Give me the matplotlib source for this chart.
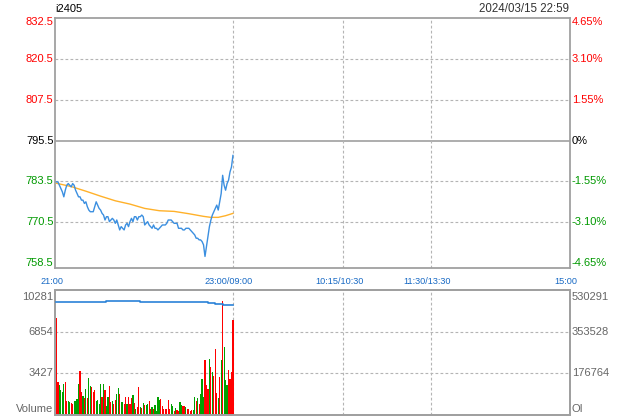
import matplotlib
matplotlib.use("Agg")
import matplotlib.pyplot as plt
import matplotlib.transforms as mtransforms
import numpy as np

plt.rcParams['font.family'] = ['Liberation Sans', 'DejaVu Sans']

# ---------------- data ----------------
symbol = "i2405"
timestamp = "2024/03/15 22:59"
pre_close = 795.5
pct_step = 1.55

price = [783.0, 783.0, 782.0, 781.0, 780.0, 778.5, 780.5, 782.0, 782.5, 782.0,
         781.5, 782.5, 782.0, 780.5, 779.5, 778.5, 778.5, 777.5, 777.5, 776.5,
         777.0, 775.5, 774.5, 774.0, 774.0, 774.0, 775.5, 777.0, 776.0, 775.0,
         774.5, 773.5, 773.0, 771.5, 772.5, 772.5, 771.0, 771.5, 772.0, 771.5,
         770.5, 771.5, 770.0, 768.5, 769.5, 769.0, 768.5, 770.0, 770.5, 769.5,
         771.0, 772.0, 771.0, 772.5, 772.5, 771.5, 772.5, 772.5, 773.0, 772.5,
         770.0, 770.5, 771.0, 770.0, 769.5, 769.0, 770.0, 769.0, 769.0, 768.5,
         769.0, 769.5, 770.0, 770.0, 770.0, 770.5, 771.5, 771.5, 771.5, 771.0,
         770.5, 770.5, 770.5, 769.0, 769.0, 769.0, 768.5, 768.5, 769.0, 769.0,
         769.0, 768.5, 768.0, 767.5, 767.0, 766.0, 766.0, 765.5, 765.5, 765.0,
         764.0, 760.5, 763.5, 766.5, 769.5, 771.5, 773.0, 774.0, 775.0, 776.0,
         774.5, 777.0, 779.5, 785.0, 782.0, 780.5, 782.5, 783.5, 786.0, 787.5, 791.0]

avg_minutes = [0, 10, 20, 30, 40, 50, 60, 70, 80, 90, 100, 105, 110, 115, 120]
avg_price = [782.6, 781.6, 780.2, 778.7, 777.3, 776.3, 775.0, 774.3, 774.1, 773.4,
             772.6, 772.3, 772.3, 772.8, 773.5]

volume = [7973, 2713, 2466, 2055, 1918, 2548, 2713, 1151, 1151, 1041,
          1014, 904, 1151, 1151, 1315, 2548, 3617, 1891, 1562, 1397,
          2137, 1397, 3041, 2384, 2302, 1891, 2055, 1151, 1233, 904,
          2548, 1480, 2548, 2055, 740, 1480, 2384, 1069, 1151, 904,
          1233, 1726, 2219, 1726, 1069, 1069, 904, 1480, 904, 1480,
          904, 1397, 1644, 986, 493, 658, 2302, 658, 575, 986,
          822,
          822, 904, 1151, 493, 658, 493, 822, 329, 1480, 1233,
          1315, 740, 493, 493, 493, 1233, 493, 904, 740, 329,
          575, 411, 329, 1069, 822, 740, 740, 658, 493, 493,
          329, 411, 411, 1480, 1151, 1397, 904, 1726, 2959, 1480,
          4521, 2466, 2137, 4603, 3946, 3535, 3206, 5425, 1808, 1397,
          3124, 4521, 9371, 5590, 2877, 2466, 3699, 2959, 3535, 7809]
vol_up = "rrggggrrggrrggggrrgrgrggrrrggggrgrggrrgrrggrggrrgrrrgrgrrgrgr" \
         "ggrrgrgggg" "rrrrrrrggr" "grrggrrgrr" "rrggrgrggg" "rrrgrgrrrg" "rgrgggrrrr"
oi_minutes = [0, 34, 57, 103, 108, 113, 120]
oi_values = [478100, 482300, 478100, 473900, 469600, 465400, 465400]

price_labels = ["832.5", "820.5", "807.5", "795.5", "783.5", "770.5", "758.5"]
pct_labels = ["4.65%", "3.10%", "1.55%", "0%", "-1.55%", "-3.10%", "-4.65%"]
vol_labels = ["10281", "6854", "3427", "Volume"]
vol_ticks = [10281, 6854, 3427]
oi_labels = ["530291", "353528", "176764", "OI"]
oi_top = 530291
time_positions = [0, 120, 195, 255, 349]
time_labels = ["21:00", "23:00/09:00", "10:15/10:30", "11:30/13:30", "15:00"]
grid_minutes = [120, 195, 255]

# ---------------- figure ----------------
W, H = 620, 420
fig = plt.figure(figsize=(W / 100, H / 100), dpi=100)
L, R = 55, 570
ax = fig.add_axes([L / W, 1 - 268 / H, (R - L) / W, (268 - 18) / H])
axv = fig.add_axes([L / W, 1 - 415 / H, (R - L) / W, (415 - 290) / H])
axo = axv.twinx()

spine_c = '#a0a0a0'
grid_c = '#b4b4b4'
XMIN, XMAX = -1.0, 349.2

for a in (ax, axv, axo):
    for s in a.spines.values():
        s.set_color(spine_c)
        s.set_linewidth(1.3)
    a.set_xticks([])
    a.set_yticks([])
    a.set_xlim(XMIN, XMAX)

# price panel
levels = [pre_close * (1 + pct_step * k / 100) for k in (3, 2, 1, 0, -1, -2, -3)]
ax.set_ylim(levels[-1] - 1.5, levels[0])
for k, lv in enumerate(levels):
    if k == 3:
        ax.axhline(lv, color=spine_c, lw=1.2, zorder=1)
    elif 0 < k < 6:
        ax.axhline(lv, color=grid_c, lw=0.8, ls=(0, (2.5, 2)), zorder=1)
for gm in grid_minutes:
    ax.axvline(gm, color=grid_c, lw=0.8, ls=(0, (2.5, 2)), zorder=1)
    axv.axvline(gm, color=grid_c, lw=0.8, ls=(0, (2.5, 2)), zorder=1)

minutes = np.arange(len(price))
ax.plot(avg_minutes, avg_price, color='#ffb12a', lw=1.0, zorder=3)
ax.plot(minutes, price, color='#3b8fe0', lw=1.0, zorder=4)

px = lambda dx, dy: mtransforms.ScaledTranslation(dx / 100, dy / 100, fig.dpi_scale_trans)
ytr = ax.get_yaxis_transform()
colors = ['#ff0000'] * 3 + ['#000000'] + ['#009900'] * 3
for k, (lv, pl, ql, c) in enumerate(zip(levels, price_labels, pct_labels, colors)):
    dy = -3.7 if k == 0 else 0
    ax.text(0, lv, pl, transform=ytr + px(-1.5, dy), ha='right', va='center',
            fontsize=8, color=c)
    ax.text(1, lv, ql, transform=ytr + px(2, dy), ha='left', va='center',
            fontsize=8, color=c)

fig.text(L / W, 1 - 9 / H, symbol, ha='left', va='center', fontsize=8, color='#000000')
fig.text(569 / W, 1 - 9 / H, timestamp, ha='right', va='center', fontsize=8.3, color='#333333')

xtr = ax.get_xaxis_transform()
for tp, tl in zip(time_positions, time_labels):
    ax.text(tp, 0, tl, transform=xtr + px(-4, -13), ha='center', va='center',
            fontsize=6.6, color='#1769c4')

# volume panel
axv.set_ylim(0, vol_ticks[0])
for vt in vol_ticks[1:]:
    axv.axhline(vt, color=grid_c, lw=0.8, ls=(0, (2.5, 2)), zorder=1)
bar_colors = ['#ff0000' if c == 'r' else '#00a000' for c in vol_up]
axv.bar(np.arange(len(volume)), volume, width=0.8, color=bar_colors[:len(volume)],
        linewidth=0, zorder=2)
axo.set_ylim(0, oi_top)
axo.step(oi_minutes, oi_values, where='post', color='#2a82d8', lw=1.2, zorder=5)

vtr = axv.get_yaxis_transform()
vpos = [(vol_ticks[0], -6.5), (vol_ticks[1], 0), (vol_ticks[2], 0), (0, 6)]
for (yv, dy), lab in zip(vpos, vol_labels):
    axv.text(0, yv, lab, transform=vtr + px(-2, dy), ha='right', va='center',
             fontsize=8, color='#666666')
for (yv, dy), lab in zip(vpos, oi_labels):
    axv.text(1, yv, lab, transform=vtr + px(2, dy), ha='left', va='center',
             fontsize=8, color='#666666')

fig.savefig("out.png", dpi=100)
